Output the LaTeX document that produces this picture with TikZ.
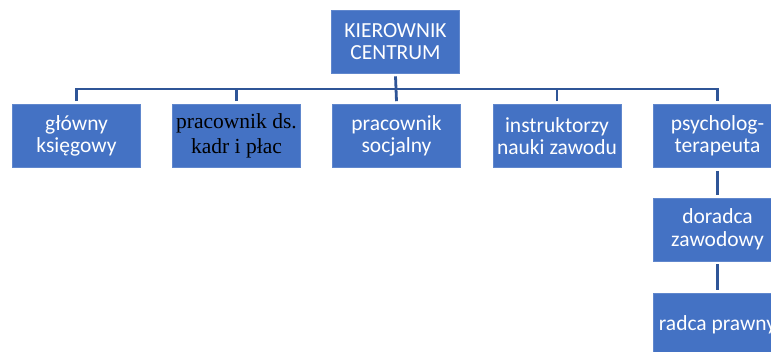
\documentclass[tikz,border=0pt]{standalone}
\usepackage{fontspec}
\setmainfont{Carlito}
\newfontfamily\szeryf{Liberation Serif}
\definecolor{niebieski}{HTML}{4472C4}
\definecolor{ciemny}{HTML}{2F5597}
\tikzset{
  komorka/.style={fill=niebieski, draw=niebieski!85!white, line width=0.6pt, text=white,
    minimum width=128pt, minimum height=63pt, align=center,
    font=\fontsize{21.5}{22.5}\selectfont, inner sep=0pt},
  linia/.style={draw=ciemny, line width=2.8pt}
}
\begin{document}
\begin{tikzpicture}[x=1pt,y=-1pt]
                    \useasboundingbox (0,0) rectangle (771,351);
                    % Kierownik
                    \node [komorka] (kier) at (395.5,41.5) {KIEROWNIK\\CENTRUM};
                    % Pierwszy poziom
                    \node [komorka] (ksieg) at (76.5,136) {główny\\księgowy};
                    \node [komorka, text=black, font=\szeryf\fontsize{21.5}{24.5}\selectfont] (kadry) at (236.5,136) {pracownik ds.\\kadr i płac};
                    \node [komorka] (socjal) at (396.5,136) {pracownik\\socjalny};
                    \node [komorka] (instr) at (557,136) {instruktorzy\\nauki zawodu};
                    \node [komorka] (psych) at (717.5,136) {psycholog-\\terapeuta};
                    % Pod psychologiem
                    \node [komorka] (dorad) at (717.5,229.5) {doradca\\zawodowy};
                    \node [komorka] (radca) at (717.5,325) {radca prawny};
                    % Polaczenia
                    \coordinate (szyna) at (396.5,89);
                    \draw [linia] ([yshift=-3pt]kier.south) -- ([yshift=3pt]socjal.north);
                    \draw [linia] ([yshift=3pt]ksieg.north) |- (szyna) -| ([yshift=3pt]psych.north);
                    \draw [linia] ([yshift=3pt]kadry.north) -- (kadry.north |- szyna);
                    \draw [linia] ([yshift=3pt]instr.north) -- (instr.north |- szyna);
                    \draw [linia] ([yshift=-3pt]psych.south) -- ([yshift=3pt]dorad.north);
                    \draw [linia] ([yshift=-3pt]dorad.south) -- ([yshift=3pt]radca.north);
                \end{tikzpicture}
\end{document}
